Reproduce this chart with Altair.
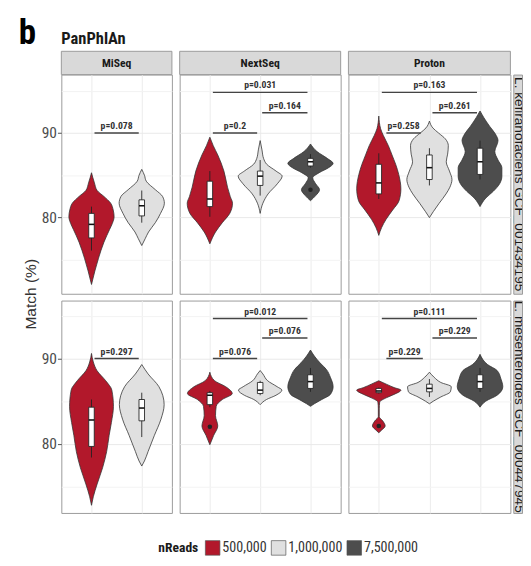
import altair as alt
import pandas as pd

# ---------------- data ----------------
PLATFORMS = ["MiSeq", "NextSeq", "Proton"]
N_GROUPS = [2, 3, 3]
NREADS = ["500,000", "1,000,000", "7,500,000"]
FILLS = ["#b2182b", "#e0e0e0", "#4d4d4d"]
SPECIES = ["L. kefiranofaciens GCF_001434195", "L. mesenteroides GCF_000447945"]

# violin outlines: (Match %, relative half-width 0..1)
K_MISEQ_500K = [(85.3, 0), (84.1, 0.13), (83.2, 0.25), (82.5, 0.55), (81.7, 0.85), (80.9, 0.96), (80.1, 1.0),
                (79.3, 0.92), (78.6, 0.8), (77.1, 0.55), (75.2, 0.31), (73.7, 0.15), (72.1, 0)]
K_MISEQ_1M = [(85.7, 0), (85.0, 0.12), (84.3, 0.2), (83.3, 0.6), (82.5, 0.92), (81.7, 1.0), (80.5, 0.83),
              (79.4, 0.6), (78.3, 0.3), (77.5, 0.15), (76.7, 0)]
K_NEXTSEQ_500K = [(89.5, 0), (88.5, 0.15), (87.4, 0.35), (85.5, 0.62), (83.6, 0.78), (82.5, 0.9), (81.7, 1.0),
                  (80.5, 0.88), (79.4, 0.55), (78.3, 0.25), (76.9, 0)]
K_NEXTSEQ_1M = [(89.1, 0), (88.0, 0.08), (87.0, 0.15), (86.3, 0.29), (85.5, 0.7), (84.9, 0.97), (84.0, 0.76),
                (82.8, 0.35), (81.7, 0.12), (80.5, 0)]
K_NEXTSEQ_7M = [(88.7, 0), (87.8, 0.29), (87.0, 0.74), (86.4, 1.0), (85.9, 0.8), (85.3, 0.38), (84.7, 0.1),
                (84.0, 0.23), (83.3, 0.4), (82.6, 0.23), (82.0, 0)]
K_PROTON_500K = [(92.0, 0), (90.5, 0.08), (89.7, 0.2), (88.5, 0.42), (87.4, 0.58), (86.3, 0.74), (85.1, 0.875),
                 (83.4, 0.97), (82.0, 0.89), (80.9, 0.61), (79.8, 0.32), (78.8, 0.12), (77.9, 0)]
K_PROTON_1M = [(91.4, 0), (90.6, 0.15), (90.0, 0.4), (89.3, 0.7), (88.5, 0.83), (87.5, 0.8), (86.6, 0.74),
               (85.5, 0.88), (84.5, 0.99), (83.6, 0.9), (82.8, 0.73), (81.7, 0.43), (80.7, 0.17), (80.0, 0)]
K_PROTON_7M = [(92.6, 0), (91.8, 0.17), (90.8, 0.42), (89.9, 0.67), (89.1, 0.79), (87.8, 0.65), (86.8, 0.79),
               (85.9, 0.96), (84.9, 0.96), (84.0, 0.86), (83.1, 0.58), (82.3, 0.25), (81.3, 0)]

M_MISEQ_500K = [(90.6, 0), (89.6, 0.08), (88.6, 0.24), (87.4, 0.63), (86.3, 0.9), (84.4, 0.97), (82.5, 0.88),
                (81.0, 0.78), (79.1, 0.67), (77.2, 0.49), (75.3, 0.25), (73.8, 0.08), (72.8, 0)]
M_MISEQ_1M = [(89.3, 0), (88.2, 0.28), (86.7, 0.76), (84.6, 0.99), (82.9, 0.85), (81.0, 0.56), (79.1, 0.28),
              (78.0, 0.12), (77.4, 0)]
M_NEXTSEQ_500K = [(88.4, 0), (87.4, 0.21), (86.7, 0.7), (85.9, 0.99), (85.2, 0.55), (84.4, 0.28), (83.3, 0.25),
                  (82.1, 0.35), (81.0, 0.17), (79.9, 0)]
M_NEXTSEQ_1M = [(88.6, 0), (88.2, 0.12), (87.4, 0.33), (86.7, 0.75), (86.3, 0.96), (85.7, 0.7), (85.2, 0.28),
                (84.6, 0)]
M_NEXTSEQ_7M = [(91.0, 0), (90.3, 0.17), (89.5, 0.42), (88.7, 0.71), (87.8, 0.88), (86.7, 1.0), (85.8, 0.88),
                (85.2, 0.5), (84.7, 0.17), (84.4, 0)]
M_PROTON_500K = [(87.4, 0), (87.0, 0.33), (86.6, 0.67), (86.3, 0.97), (85.8, 0.67), (85.4, 0.33), (84.9, 0.04),
                 (84.1, 0.02), (83.2, 0.02), (82.7, 0.17), (82.1, 0.28), (81.6, 0.12), (81.3, 0)]
M_PROTON_1M = [(88.4, 0), (87.8, 0.21), (87.2, 0.5), (86.7, 0.96), (86.1, 0.92), (85.5, 0.5), (85.0, 0.17),
               (84.7, 0)]
M_PROTON_7M = [(90.5, 0), (89.3, 0.33), (88.6, 0.75), (87.6, 0.92), (86.7, 1.0), (85.7, 0.75), (85.0, 0.25),
               (84.3, 0)]

VIOLINS = [
    {"MiSeq": [K_MISEQ_500K, K_MISEQ_1M],
     "NextSeq": [K_NEXTSEQ_500K, K_NEXTSEQ_1M, K_NEXTSEQ_7M],
     "Proton": [K_PROTON_500K, K_PROTON_1M, K_PROTON_7M]},
    {"MiSeq": [M_MISEQ_500K, M_MISEQ_1M],
     "NextSeq": [M_NEXTSEQ_500K, M_NEXTSEQ_1M, M_NEXTSEQ_7M],
     "Proton": [M_PROTON_500K, M_PROTON_1M, M_PROTON_7M]},
]

# box stats: platform, nReads, lower whisker, q1, median, q3, upper whisker
BOX_KEF = [
    ("MiSeq", "500,000", 76.1, 77.6, 79.2, 80.5, 81.3),
    ("MiSeq", "1,000,000", 79.4, 80.2, 81.4, 82.1, 83.2),
    ("NextSeq", "500,000", 80.1, 81.3, 82.2, 84.3, 85.5),
    ("NextSeq", "1,000,000", 82.6, 83.8, 84.9, 85.5, 86.8),
    ("NextSeq", "7,500,000", 85.9, 86.1, 86.6, 87.0, 87.5),
    ("Proton", "500,000", 82.2, 82.8, 84.1, 86.3, 87.6),
    ("Proton", "1,000,000", 83.8, 84.5, 85.9, 87.4, 88.2),
    ("Proton", "7,500,000", 84.5, 85.1, 86.6, 88.2, 89.1),
]
BOX_MES = [
    ("MiSeq", "500,000", 78.4, 79.7, 82.8, 84.3, 85.2),
    ("MiSeq", "1,000,000", 80.8, 82.7, 84.2, 85.2, 86.0),
    ("NextSeq", "500,000", 84.3, 84.6, 85.7, 86.0, 86.2),
    ("NextSeq", "1,000,000", 85.7, 85.9, 86.3, 87.2, 87.4),
    ("NextSeq", "7,500,000", 86.1, 86.5, 87.3, 88.1, 88.9),
    ("Proton", "500,000", 85.9, 86.0, 86.2, 86.5, 86.6),
    ("Proton", "1,000,000", 85.5, 86.1, 86.5, 87.0, 87.6),
    ("Proton", "7,500,000", 86.1, 86.5, 87.3, 88.1, 88.9),
]
BOXES = [BOX_KEF, BOX_MES]

OUTLIERS_KEF = [("NextSeq", "7,500,000", 83.3)]
OUTLIERS_MES = [("NextSeq", "500,000", 82.0), ("Proton", "500,000", 82.1)]
OUTLIERS = [OUTLIERS_KEF, OUTLIERS_MES]

# significance brackets: platform, from group, to group, height (Match %), label
BRACKETS_KEF = [
    ("MiSeq", 0.06, 0.94, 90.0, "p=0.078"),
    ("NextSeq", 0.06, 0.94, 90.0, "p=0.2"),
    ("NextSeq", 1.04, 1.94, 92.4, "p=0.164"),
    ("NextSeq", 0.06, 1.94, 94.8, "p=0.031"),
    ("Proton", 0.15, 0.83, 90.0, "p=0.258"),
    ("Proton", 1.06, 1.94, 92.4, "p=0.261"),
    ("Proton", 0.06, 1.94, 94.8, "p=0.163"),
]
BRACKETS_MES = [
    ("MiSeq", 0.06, 0.94, 90.0, "p=0.297"),
    ("NextSeq", 0.06, 0.94, 90.0, "p=0.076"),
    ("NextSeq", 1.04, 1.94, 92.4, "p=0.076"),
    ("NextSeq", 0.06, 1.94, 94.7, "p=0.012"),
    ("Proton", 0.15, 0.87, 90.0, "p=0.229"),
    ("Proton", 1.06, 1.94, 92.4, "p=0.229"),
    ("Proton", 0.06, 1.94, 94.7, "p=0.111"),
]
BRACKETS = [BRACKETS_KEF, BRACKETS_MES]

# ---------------- layout / style ----------------
WIDTHS = [114, 166, 167]
HEIGHTS = [226, 219]
YDOMS = [[71.0, 96.9], [71.9, 96.8]]
NARROW = "Liberation Sans Narrow, Arial Narrow, Roboto Condensed, Liberation Sans, sans-serif"
REG = "Liberation Sans, Arial, sans-serif"
BORDER = "#999999"
STRIP = "#d9d9d9"

LEGEND = alt.Legend(
    title="nReads", orient="none", legendX=100, legendY=480, direction="horizontal",
    titleOrient="left", symbolType="square", symbolSize=225, symbolStrokeColor="#555555",
    symbolStrokeWidth=0.7, symbolOpacity=1, labelFont=NARROW, labelFontSize=14.5, labelColor="#333333",
    titleFont=NARROW, titleFontSize=14, titleFontWeight="bold", titleColor="#1a1a1a",
    labelOffset=2, columnPadding=3, titlePadding=6,
)
FILL_SCALE = alt.Scale(domain=NREADS, range=FILLS)


def panel(si, pi):
    plat = PLATFORMS[pi]
    n = N_GROUPS[pi]
    W = WIDTHS[pi]
    H = HEIGHTS[si]
    first = pi == 0
    xs = alt.Scale(domain=[-0.6, n - 0.4], nice=False, zero=False)
    ys = alt.Scale(domain=YDOMS[si], nice=False, zero=False)
    xaxis = alt.Axis(values=list(range(n)), grid=True, labels=False, ticks=False, domain=False,
                     title=None, gridColor="#ebebeb", gridWidth=1)
    yaxis = alt.Axis(
        values=[75, 80, 85, 90, 95], grid=True, domain=False, title=None,
        gridColor={"condition": {"test": "datum.value % 10 === 0", "value": "#e8e8e8"}, "value": "#f3f3f3"},
        gridWidth=1, labels=first, ticks=first,
        labelExpr="datum.value % 10 === 0 ? datum.label : ''",
        tickOpacity={"condition": {"test": "datum.value % 10 === 0", "value": 1}, "value": 0},
        tickSize=4, tickColor="#4d4d4d", labelPadding=1, labelFont=NARROW, labelFontSize=16,
        labelColor="#4d4d4d",
    )

    rows = []
    for gi, prof in enumerate(VIOLINS[si][plat]):
        for m, r in sorted(prof):
            rows.append({"match": m, "rel": r, "idx": gi, "nreads": NREADS[gi]})
    vdf = pd.DataFrame(rows)
    violin = (
        alt.Chart(vdf)
        .transform_calculate(xl="datum.idx - 0.45 * datum.rel", xr="datum.idx + 0.45 * datum.rel")
        .mark_area(orient="horizontal", interpolate="monotone", stroke="#333333", strokeWidth=0.8, opacity=1)
        .encode(
            y=alt.Y("match:Q", scale=ys, axis=yaxis),
            x=alt.X("xl:Q", scale=xs, axis=xaxis, stack=None),
            x2="xr:Q",
            fill=alt.Fill("nreads:N", scale=FILL_SCALE, legend=LEGEND),
        )
    )

    brows = []
    for b in BOXES[si]:
        if b[0] == plat:
            brows.append({"idx": NREADS.index(b[1]), "lo": b[2], "q1": b[3], "med": b[4], "q3": b[5], "hi": b[6]})
    bdf = pd.DataFrame(brows)
    base_b = alt.Chart(bdf).transform_calculate(bl="datum.idx - 0.055", br="datum.idx + 0.055")
    whisk = base_b.mark_rule(color="#222222", strokeWidth=0.9).encode(
        x=alt.X("idx:Q", scale=xs, axis=xaxis), y=alt.Y("lo:Q", scale=ys, axis=yaxis), y2="hi:Q")
    box = base_b.mark_rect(fill="white", stroke="#222222", strokeWidth=0.9).encode(
        x=alt.X("bl:Q", scale=xs, axis=xaxis), x2="br:Q", y=alt.Y("q1:Q", scale=ys, axis=yaxis), y2="q3:Q")
    med = base_b.mark_rule(color="#111111", strokeWidth=1.6).encode(
        x=alt.X("bl:Q", scale=xs, axis=xaxis), x2="br:Q", y=alt.Y("med:Q", scale=ys, axis=yaxis))

    layers = [violin, whisk, box, med]

    orows = [{"idx": NREADS.index(o[1]), "v": o[2]} for o in OUTLIERS[si] if o[0] == plat]
    if orows:
        layers.append(
            alt.Chart(pd.DataFrame(orows)).mark_circle(size=22, color="#222222", opacity=1).encode(
                x=alt.X("idx:Q", scale=xs, axis=xaxis), y=alt.Y("v:Q", scale=ys, axis=yaxis))
        )

    krows = [{"x0": b[1], "x1": b[2], "y": b[3], "lab": b[4]} for b in BRACKETS[si] if b[0] == plat]
    kdf = pd.DataFrame(krows)
    kbase = alt.Chart(kdf).transform_calculate(xm="(datum.x0 + datum.x1) / 2")
    layers.append(kbase.mark_rule(color="#444444", strokeWidth=1.5).encode(
        x=alt.X("x0:Q", scale=xs, axis=xaxis), x2="x1:Q", y=alt.Y("y:Q", scale=ys, axis=yaxis)))
    layers.append(kbase.mark_text(font=NARROW, fontSize=10, fontWeight="bold", color="#333333",
                                  baseline="alphabetic", dy=-4).encode(
        x=alt.X("xm:Q", scale=xs, axis=xaxis), y=alt.Y("y:Q", scale=ys, axis=yaxis), text="lab:N"))

    if si == 0:
        sdf = pd.DataFrame({"t": [plat]})
        layers.append(alt.Chart(sdf).mark_rect(fill=STRIP, stroke=BORDER, strokeWidth=1).encode(
            x=alt.value(0), x2=alt.value(W), y=alt.value(-24), y2=alt.value(0)))
        layers.append(alt.Chart(sdf).mark_text(font=NARROW, fontSize=12, fontWeight="bold", color="#1a1a1a",
                                               baseline="middle").encode(
            x=alt.value(W / 2), y=alt.value(-11.5), text="t:N"))
        if pi == 0:
            layers.append(alt.Chart(pd.DataFrame({"t": ["PanPhlAn"]})).mark_text(
                font=NARROW, fontSize=17, fontWeight="bold", color="#1a1a1a", align="left",
                baseline="alphabetic").encode(x=alt.value(0), y=alt.value(-32), text="t:N"))
            layers.append(alt.Chart(pd.DataFrame({"t": ["b"]})).mark_text(
                font=NARROW, fontSize=36, fontWeight="bold", color="#000000", align="left",
                baseline="alphabetic").encode(x=alt.value(-44), y=alt.value(-32), text="t:N"))
            layers.append(alt.Chart(pd.DataFrame({"t": ["Match (%)"]})).mark_text(
                font=REG, fontSize=16, color="#333333", angle=270, align="center",
                baseline="middle").encode(x=alt.value(-31), y=alt.value(226.5), text="t:N"))

    return alt.layer(*layers).properties(width=W, height=H)


def right_strip(si):
    H = HEIGHTS[si]
    return alt.Chart(pd.DataFrame({"t": [SPECIES[si]]})).mark_text(
        font=REG, fontSize=14, color="#1a1a1a", angle=90, align="center", baseline="alphabetic", clip=True
    ).encode(x=alt.value(2), y=alt.value(H / 2), text="t:N").properties(
        width=9, height=H, view=alt.ViewBackground(fill=STRIP, stroke=BORDER, strokeWidth=1))


cols = [alt.vconcat(panel(0, pi), panel(1, pi), spacing=7, bounds="flush") for pi in range(3)]
rcol = alt.vconcat(right_strip(0), right_strip(1), spacing=7, bounds="flush")

chart = (
    alt.hconcat(cols[0], cols[1], alt.hconcat(cols[2], rcol, spacing=1), spacing=6)
    .properties(padding={"left": 10, "top": -2, "right": 0, "bottom": 0})
    .configure_view(stroke=BORDER, strokeWidth=1)
)

chart.save("out.html", embed_options={"renderer": "svg", "actions": False})
